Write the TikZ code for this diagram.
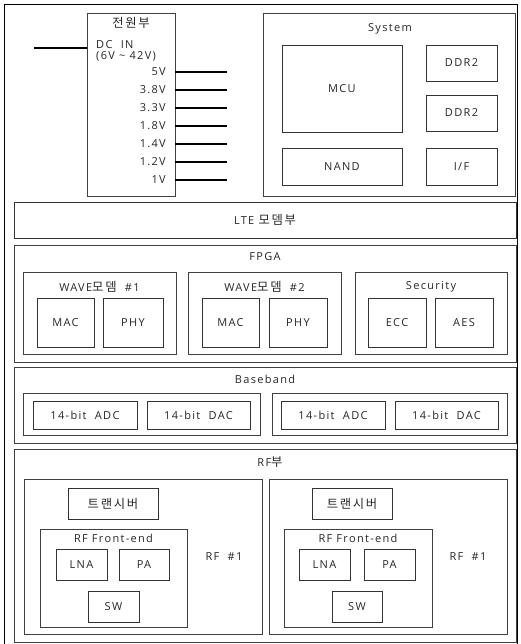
\documentclass[tikz,border=0pt]{standalone}
\usepackage{fontspec}
\setmainfont{Open Sans}[LetterSpace=12]
\newfontfamily\kr{Noto Sans CJK KR}[LetterSpace=14, Scale=1.12]
\usetikzlibrary{positioning}
\tikzset{
  font=\fontsize{11}{11}\selectfont,
  box/.style={draw=black!80, line width=0.8pt, inner sep=0pt, align=center, text=black!85},
  groupbox/.style={draw=black!75, line width=0.8pt, inner sep=0pt},
  title/.style={inner sep=1pt, text=black!85},
  rail/.style={line width=1.1pt, draw=black},
  frame/.style={line width=1pt, draw=black},
}

\begin{document}
\begin{tikzpicture}[x=1pt, y=-1pt]
  \useasboundingbox (0,0) rectangle (521,644);
  \draw[frame] (4,660) -- (4,5) -- (517,5) -- (517,660);

  % ==================================================================
  % Power unit
  % ==================================================================
  \node[groupbox, minimum width=88, minimum height=183] (pwr) at (131,104.5) {};
  \node[title] (pwrt) at (131,23) {\kr 전원부};
  \node[title, align=left, anchor=north west] (dcin) at (95,39)
    {DC\ \ IN\\(6V \textasciitilde\ 42V)};
  \coordinate (dcsrc) at (34,48);
  \draw[rail] (dcsrc) -- (dcsrc -| pwr.west);

  \foreach \v [count=\i] in {5V,3.8V,3.3V,1.8V,1.4V,1.2V,1V}{
    \node[title, anchor=east] (v\i) at (167,{72+18*(\i-1)}) {\v};
    \coordinate (o\i) at (227,{72+18*(\i-1)});
    \draw[rail] (pwr.east |- o\i) -- (o\i);
  }

  % ==================================================================
  % System
  % ==================================================================
  \node[groupbox, minimum width=252, minimum height=183] (sys) at (389,104.5) {};
  \node[title] (syst) at (390,29) {System};
  \node[box, minimum width=120, minimum height=87] (mcu) at (342,88.5) {MCU};
  \node[box, minimum width=71, minimum height=36] (ddra) at (461.5,63) {DDR2};
  \node[box, minimum width=71, minimum height=36] (ddrb) at (461.5,113) {DDR2};
  \node[box, minimum width=120, minimum height=37] (nand) at (342,166.5) {NAND};
  \node[box, minimum width=71, minimum height=37] (intf) at (461.5,166.5) {I/F};

  % ==================================================================
  % LTE modem
  % ==================================================================
  \node[box, minimum width=502, minimum height=36] (lte) at (265,220) {LTE\ {\kr 모뎀부}};

  % ==================================================================
  % FPGA
  % ==================================================================
  \node[groupbox, minimum width=502, minimum height=117] (fpga) at (265,303.5) {};
  \node[title] (fpgat) at (265,257) {FPGA};

  \node[groupbox, minimum width=153, minimum height=82] (wavea) at (99.5,313) {};
  \node[title] (waveat) at (99.5,287) {WAVE{\kr 모뎀}\ \ \#1};
  \node[box, minimum width=57, minimum height=49] (maca) at (65.5,322.5) {MAC};
  \node[box, minimum width=60, minimum height=49] (phya) at (133,322.5) {PHY};

  \node[groupbox, minimum width=153, minimum height=82] (waveb) at (264.5,313) {};
  \node[title] (wavebt) at (264.5,287) {WAVE{\kr 모뎀}\ \ \#2};
  \node[box, minimum width=57, minimum height=49] (macb) at (230.5,322.5) {MAC};
  \node[box, minimum width=58, minimum height=49] (phyb) at (298,322.5) {PHY};

  \node[groupbox, minimum width=152, minimum height=82] (sec) at (431,313) {};
  \node[title] (sect) at (431,287) {Security};
  \node[box, minimum width=58, minimum height=49] (ecc) at (397,322.5) {ECC};
  \node[box, minimum width=58, minimum height=49] (aes) at (464,322.5) {AES};

  % ==================================================================
  % Baseband
  % ==================================================================
  \node[groupbox, minimum width=502, minimum height=76] (bb) at (265,405) {};
  \node[title] (bbt) at (265,379) {Baseband};

  \node[groupbox, minimum width=237, minimum height=42] (bba) at (141.5,414) {};
  \node[box, minimum width=104, minimum height=28] (adca) at (85,415) {14-bit\ \ ADC};
  \node[box, minimum width=103, minimum height=28] (daca) at (198.5,415) {14-bit\ \ DAC};

  \node[groupbox, minimum width=235, minimum height=42] (bbb) at (389.5,414) {};
  \node[box, minimum width=104, minimum height=28] (adcb) at (333,415) {14-bit\ \ ADC};
  \node[box, minimum width=103, minimum height=28] (dacb) at (446.5,415) {14-bit\ \ DAC};

  % ==================================================================
  % RF unit
  % ==================================================================
  \node[groupbox, minimum width=502, minimum height=193] (rf) at (265,545.5) {};
  \node[title] (rft) at (270,462) {RF{\kr 부}};

  % ---- RF #1 (left)
  \node[groupbox, minimum width=238, minimum height=155] (rfa) at (143,556.5) {};
  \node[box, minimum width=90, minimum height=31] (trxa) at (113,503.5) {\kr 트랜시버};
  \node[groupbox, minimum width=147, minimum height=98] (fea) at (113.5,578) {};
  \node[title] (feat) at (113.5,538) {RF Front-end};
  \node[box, minimum width=51, minimum height=31] (lnaa) at (81.5,564.5) {LNA};
  \node[box, minimum width=50, minimum height=31] (paa) at (144,564.5) {PA};
  \node[box, minimum width=51, minimum height=31] (swa) at (113.5,606.5) {SW};
  \node[title] (rfal) at (224,557) {RF\ \ \#1};

  % ---- RF #1 (right)
  \node[groupbox, minimum width=238, minimum height=155] (rfb) at (388,556.5) {};
  \node[box, minimum width=80, minimum height=31] (trxb) at (352,503.5) {\kr 트랜시버};
  \node[groupbox, minimum width=148, minimum height=98] (feb) at (358,578) {};
  \node[title] (febt) at (358,538) {RF Front-end};
  \node[box, minimum width=51, minimum height=31] (lnab) at (324.5,564.5) {LNA};
  \node[box, minimum width=51, minimum height=31] (pab) at (389.5,564.5) {PA};
  \node[box, minimum width=50, minimum height=31] (swb) at (357,606.5) {SW};
  \node[title] (rfbl) at (468,557) {RF\ \ \#1};

\end{tikzpicture}
\end{document}
